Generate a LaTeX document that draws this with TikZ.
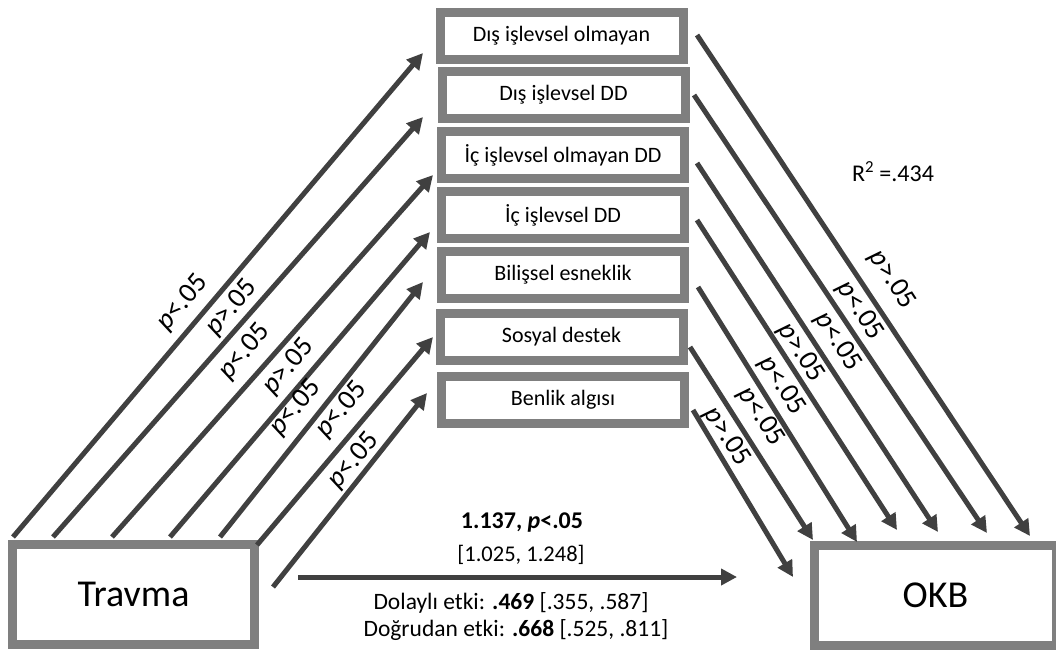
\documentclass[tikz,border=0pt]{standalone}
\usepackage{fontspec}
\setmainfont{Carlito}
\usepackage{tikz}
\usetikzlibrary{arrows.meta}
\definecolor{boxGray}{HTML}{7F7F7F}
\definecolor{arrowGray}{HTML}{404040}

\begin{document}
\begin{tikzpicture}[x=1pt,y=-1pt,
    medbox/.style={draw=boxGray, line width=9pt, fill=white, minimum width=243pt, minimum height=47pt, inner sep=0pt, font=\fontsize{22}{26}\selectfont},
    mainbox/.style={draw=boxGray, line width=9pt, fill=white, minimum width=242pt, minimum height=100pt, inner sep=0pt, font=\fontsize{38}{42}\selectfont},
    arr/.style={draw=arrowGray, line width=5pt, -{Triangle[length=16pt,width=16pt]}},
    plbl/.style={font=\fontsize{28}{32}\selectfont, inner sep=0pt},
    txt/.style={font=\fontsize{23.5}{27}\selectfont, inner sep=0pt}]
    \useasboundingbox (0,0) rectangle (1056,649);
    % boxes
    \node[mainbox] (trav) at (133.5,594.5) {Travma};
    \node[mainbox] (okb) at (935.5,595) {OKB};
    \node[medbox] (m1) at (561.5,36) {Dış işlevsel olmayan};
    \node[medbox] (m2) at (563.5,95) {Dış işlevsel DD};
    \node[medbox] (m3) at (563,155) {İç işlevsel olmayan DD};
    \node[medbox] (m4) at (563,215) {İç işlevsel DD};
    \node[medbox] (m5) at (563,275) {Bilişsel esneklik};
    \node[medbox] (m6) at (561.5,336.5) {Sosyal destek};
    \node[medbox] (m7) at (563,399.5) {Benlik algısı};
    % arrow ends
    \coordinate (ls1) at (13,537);  \coordinate (le1) at (423,53);
    \coordinate (ls2) at (53,537);  \coordinate (le2) at (423,117);
    \coordinate (ls3) at (112,537); \coordinate (le3) at (433,175);
    \coordinate (ls4) at (170,537); \coordinate (le4) at (430,232);
    \coordinate (ls5) at (220,537); \coordinate (le5) at (423,282);
    \coordinate (ls6) at (257,545); \coordinate (le6) at (433,337);
    \coordinate (ls7) at (273,587); \coordinate (le7) at (427,393);
    \coordinate (rs1) at (697,35);  \coordinate (re1) at (1030,536);
    \coordinate (rs2) at (694,95);  \coordinate (re2) at (987,533);
    \coordinate (rs3) at (697,163); \coordinate (re3) at (938,532);
    \coordinate (rs4) at (697,220); \coordinate (re4) at (897,530);
    \coordinate (rs5) at (698,287); \coordinate (re5) at (857,542);
    \coordinate (rs6) at (690,347); \coordinate (re6) at (813,540);
    \coordinate (rs7) at (693,410); \coordinate (re7) at (793,577);
    \coordinate (ds) at (298,577);  \coordinate (de) at (737,577);
    % paths a
    \draw[arr] (ls1) -- (le1);
    \draw[arr] (ls2) -- (le2);
    \draw[arr] (ls3) -- (le3);
    \draw[arr] (ls4) -- (le4);
    \draw[arr] (ls5) -- (le5);
    \draw[arr] (ls6) -- (le6);
    \draw[arr] (ls7) -- (le7);
    % paths b
    \draw[arr] (rs1) -- (re1);
    \draw[arr] (rs2) -- (re2);
    \draw[arr] (rs3) -- (re3);
    \draw[arr] (rs4) -- (re4);
    \draw[arr] (rs5) -- (re5);
    \draw[arr] (rs6) -- (re6);
    \draw[arr] (rs7) -- (re7);
    % path c
    \draw[arr] (ds) -- (de);
    % labels
    \node[plbl, rotate=50] (lp1) at (183,303) {\textit{p}<.05};
    \node[plbl, rotate=50] (lp2) at (232,308) {\textit{p}>.05};
    \node[plbl, rotate=50] (lp3) at (245,352) {\textit{p}<.05};
    \node[plbl, rotate=50] (lp4) at (289,367) {\textit{p}>.05};
    \node[plbl, rotate=50] (lp5) at (296,408) {\textit{p}<.05};
    \node[plbl, rotate=50] (lp6) at (342,410) {\textit{p}<.05};
    \node[plbl, rotate=50] (lp7) at (354,461) {\textit{p}<.05};
    \node[plbl, rotate=-57] (rp1) at (892,280) {\textit{p}>.05};
    \node[plbl, rotate=-57] (rp2) at (860,311) {\textit{p}<.05};
    \node[plbl, rotate=-57] (rp3) at (838,342) {\textit{p}<.05};
    \node[plbl, rotate=-57] (rp4) at (801,353) {\textit{p}>.05};
    \node[plbl, rotate=-57] (rp5) at (782,386) {\textit{p}<.05};
    \node[plbl, rotate=-57] (rp6) at (761,417) {\textit{p}<.05};
    \node[plbl, rotate=-57] (rp7) at (727,437) {\textit{p}>.05};
    \node[txt, font=\fontsize{24}{28}\selectfont] (rsq) at (893,172) {R\textsuperscript{2} =.434};
    \node[txt, font=\fontsize{24}{28}\selectfont] (tot) at (522,523) {\textbf{1.137, \textit{p}<.05}};
    \node[txt, font=\fontsize{22.5}{26}\selectfont] (totci) at (521,555) {[1.025, 1.248]};
    \node[txt] (ind) at (511,603) {Dolaylı etki: \textbf{.469} [.355, .587]};
    \node[txt] (dir) at (516,630) {Doğrudan etki: \textbf{.668} [.525, .811]};
\end{tikzpicture}
\end{document}
